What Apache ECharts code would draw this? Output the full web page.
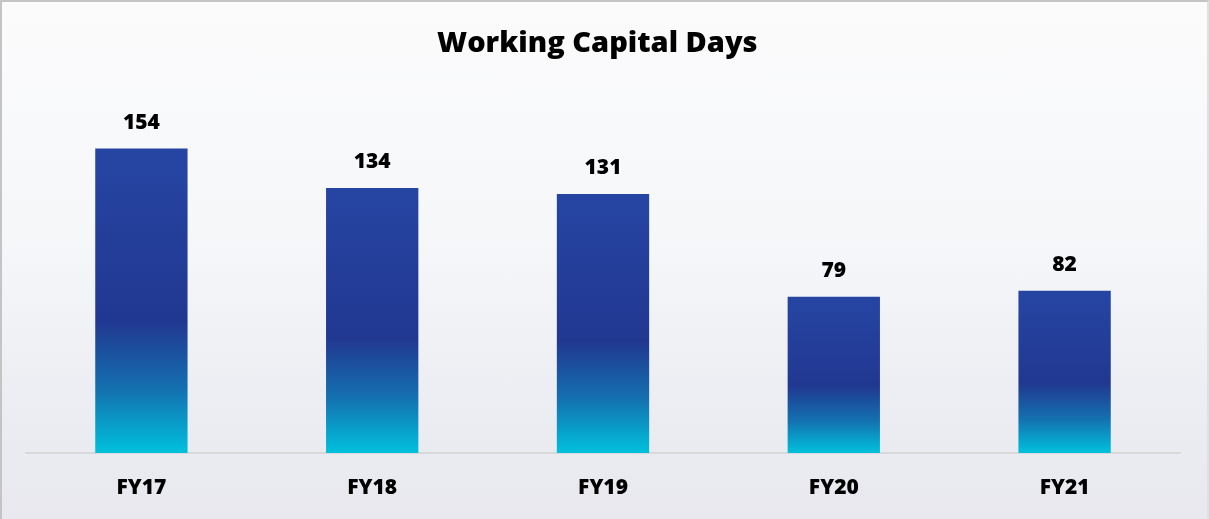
<!DOCTYPE html>
<html>
<head>
<meta charset="utf-8">
<script src="https://cdn.jsdelivr.net/npm/echarts@6/dist/echarts.min.js"></script>
<style>
  html, body { margin: 0; padding: 0; }
  #chart {
    width: 1209px; height: 519px; box-sizing: border-box;
    border-top: 2px solid #c4c4c4; border-left: 2px solid #c4c4c4; border-right: 2px solid #e0e0e0;
    background: linear-gradient(to bottom, #fbfbfc 0%, #f6f7f9 45%, #eceef3 75%, #e8e8ee 100%);
  }
</style>
</head>
<body>
<div id="chart"></div>
<script>
const categories = ['FY17', 'FY18', 'FY19', 'FY20', 'FY21'];
const days = [154, 134, 131, 79, 82];

const chart = echarts.init(document.getElementById('chart'));

// bar fill: blue on top, darker band, fading to cyan at the base
const barFill = new echarts.graphic.LinearGradient(0, 0, 0, 1, [
  { offset: 0, color: '#2645a3' },
  { offset: 0.57, color: '#213891' },
  { offset: 0.79, color: '#1470b0' },
  { offset: 1, color: '#00c1dc' },
]);

const option = {
  backgroundColor: 'transparent',
  title: {
    text: 'Working Capital Days',
    left: 430,
    top: 22,
    textStyle: {
      fontFamily: 'Open Sans',
      fontWeight: 800,
      fontSize: 29,
      color: '#000',
    },
  },
  grid: { left: 24, right: 27, top: 95, bottom: 66 },
  xAxis: {
    type: 'category',
    data: categories,
    axisTick: { show: false },
    axisLine: { lineStyle: { color: '#d9d9d9', width: 2 } },
    axisLabel: {
      margin: 25,
      fontFamily: 'Open Sans',
      fontWeight: 800,
      fontSize: 21,
      color: '#000',
    },
  },
  yAxis: {
    type: 'value',
    min: 0,
    max: 180,
    show: false,
  },
  series: [
    {
      type: 'bar',
      data: days,
      barWidth: '40%',
      itemStyle: { color: barFill },
      label: {
        show: true,
        position: 'top',
        distance: 15,
        fontFamily: 'Open Sans',
        fontWeight: 800,
        fontSize: 21,
        color: '#000',
      },
      silent: true,
    },
  ],
};

chart.setOption(option);
</script>
</body>
</html>
